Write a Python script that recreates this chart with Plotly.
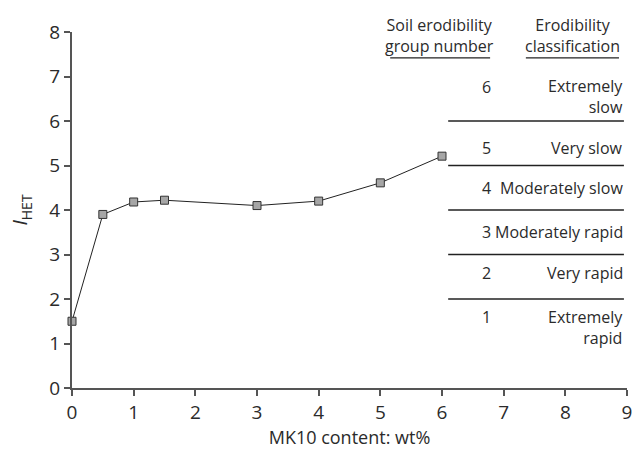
import plotly.graph_objects as go

mk10 = [0, 0.5, 1, 1.5, 3, 4, 5, 6]
ihet = [1.5, 3.9, 4.18, 4.22, 4.1, 4.2, 4.61, 5.21]

boundaries = [6, 5, 4, 3, 2]
group_numbers = ["6", "5", "4", "3", "2", "1"]
group_y = [6.77, 5.4, 4.5, 3.5, 2.58, 1.59]
classes = ["Extremely<br>slow", "Very slow", "Moderately slow", "Moderately rapid", "Very rapid", "Extremely<br>rapid"]
class_y = [6.55, 5.4, 4.5, 3.5, 2.58, 1.36]

FONT = "Open Sans"
TXT = "#2b2b2b"
AX = "#555555"

fig = go.Figure()
fig.add_trace(go.Scatter(
    x=mk10, y=ihet, mode="lines+markers",
    line=dict(color="#222222", width=1),
    marker=dict(symbol="square", size=8, color="#a6a6a6", line=dict(color="#333333", width=1)),
    cliponaxis=False, showlegend=False,
))

for b in boundaries:
    fig.add_shape(type="line", x0=6.1, x1=8.95, y0=b, y1=b, xref="x", yref="y",
                  line=dict(color="#222222", width=1.6))

# header underlines
fig.add_shape(type="line", x0=5.16, x1=6.78, y0=7.42, y1=7.42, xref="x", yref="y",
              line=dict(color="#222222", width=1.2))
fig.add_shape(type="line", x0=7.36, x1=8.87, y0=7.42, y1=7.42, xref="x", yref="y",
              line=dict(color="#222222", width=1.2))

fig.add_annotation(x=5.96, y=7.93, xref="x", yref="y", text="Soil erodibility<br>group number",
                   showarrow=False, font=dict(family=FONT, size=16, color=TXT), xanchor="center", yanchor="middle")
fig.add_annotation(x=8.11, y=7.93, xref="x", yref="y", text="Erodibility<br>classification",
                   showarrow=False, font=dict(family=FONT, size=16, color=TXT), xanchor="center", yanchor="middle")

for g, gy in zip(group_numbers, group_y):
    fig.add_annotation(x=6.72, y=gy, xref="x", yref="y", text=g, showarrow=False,
                       font=dict(family=FONT, size=16, color=TXT), xanchor="center", yanchor="middle")
for c, cy in zip(classes, class_y):
    fig.add_annotation(x=8.97, y=cy, xref="x", yref="y", text=c, showarrow=False, align="right",
                       font=dict(family=FONT, size=16, color=TXT), xanchor="right", yanchor="middle")

fig.update_layout(
    width=638, height=451,
    margin=dict(l=72, r=6, t=32, b=63),
    paper_bgcolor="white", plot_bgcolor="white",
    font=dict(family=FONT, color=TXT),
    xaxis=dict(range=[0, 9], tickvals=list(range(10)), showgrid=False, zeroline=False,
               showline=True, linecolor=AX, linewidth=2, ticks="outside", ticklen=6,
               tickcolor=AX, tickwidth=1.5, tickfont=dict(size=19, color=TXT),
               title=dict(text="MK10 content: wt%", font=dict(size=18, color=TXT), standoff=8)),
    yaxis=dict(range=[0, 8], tickvals=list(range(9)), showgrid=False, zeroline=False,
               showline=True, linecolor=AX, linewidth=2, ticks="outside", ticklen=6,
               tickcolor=AX, tickwidth=1.5, tickfont=dict(size=19, color=TXT),
               title=dict(text="<i>I</i><sub>HET</sub>", font=dict(size=20, color=TXT), standoff=16)),
)

fig.write_html("out.html")
